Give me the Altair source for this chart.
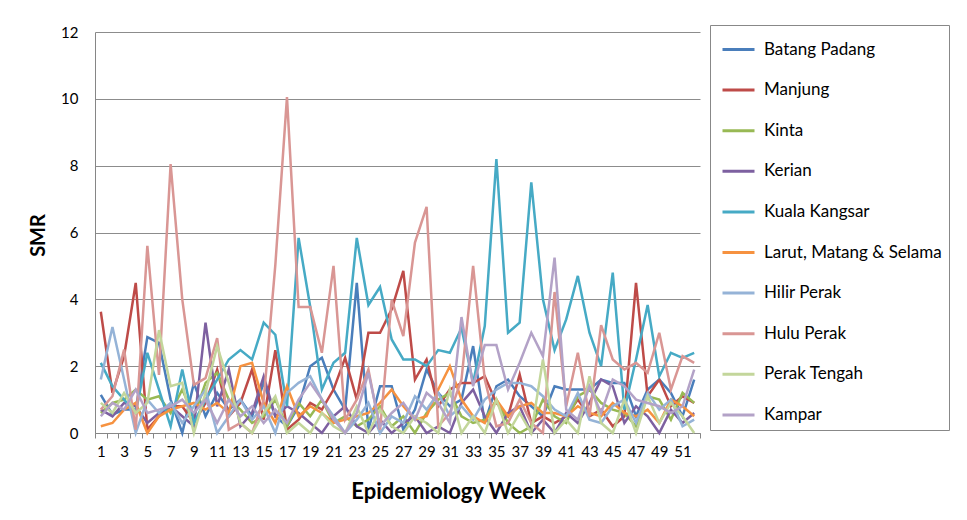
import altair as alt
import pandas as pd

weeks = list(range(1, 53))

districts = ["Batang Padang", "Manjung", "Kinta", "Kerian", "Kuala Kangsar",
             "Larut, Matang & Selama", "Hilir Perak", "Hulu Perak", "Perak Tengah", "Kampar"]

colors = ["#4A7EBB", "#BE4B48", "#98B954", "#7D60A0", "#46AAC5",
          "#F69240", "#95B3D7", "#D99694", "#C3D69B", "#B3A2C7"]

batang_padang = [1.14, 0.55, 0.7, 0.7, 2.87, 2.7, 1.0, 0.0, 1.5, 0.5, 1.2, 0.7, 1.0, 0.5, 1.5, 0.5, 0.2, 0.8, 2.0, 2.25,
                 1.3, 0.7, 4.49, 0.1, 1.4, 1.4, 0.1, 0.7, 1.9, 1.2, 0.8, 1.0, 2.6, 0.3, 1.4, 1.6, 1.1, 0.8, 0.5, 1.4,
                 1.3, 1.3, 1.3, 1.6, 1.5, 1.5, 0.5, 1.3, 1.6, 1.2, 0.5, 1.6]
manjung = [3.63, 1.2, 2.3, 4.49, 0.1, 0.5, 0.8, 0.8, 0.3, 0.9, 1.9, 0.5, 0.9, 1.9, 0.4, 2.48, 0.1, 0.4, 0.9, 0.7,
           1.3, 2.25, 1.0, 3.0, 3.0, 3.7, 4.85, 1.6, 2.2, 0.8, 1.3, 1.5, 1.5, 1.7, 0.9, 0.5, 1.75, 0.3, 0.5, 0.3,
           0.5, 1.0, 0.5, 0.7, 0.2, 0.5, 4.49, 1.1, 1.6, 0.8, 1.1, 0.9]
kinta = [0.6, 0.9, 1.0, 1.3, 1.0, 1.1, 0.6, 1.3, 0.5, 1.5, 1.8, 1.0, 0.7, 0.3, 0.5, 1.0, 0.2, 0.9, 0.5, 1.0,
         0.3, 0.5, 0.2, 0.4, 0.8, 0.2, 0.5, 0.0, 0.6, 1.0, 1.2, 0.5, 0.3, 0.4, 1.0, 0.3, 0.0, 0.2, 1.0, 0.5,
         0.3, 1.1, 1.3, 0.9, 0.7, 0.6, 0.2, 1.1, 1.0, 0.4, 1.2, 0.9]
kerian = [0.7, 0.5, 0.9, 0.8, 0.3, 0.6, 0.8, 0.5, 0.2, 3.3, 0.8, 1.9, 0.2, 0.6, 1.7, 0.5, 0.8, 0.6, 0.3, 0.0,
          0.5, 0.8, 0.2, 0.0, 0.4, 0.0, 0.3, 0.5, 0.0, 0.2, 0.0, 0.9, 1.3, 0.5, 0.0, 0.6, 0.8, 0.0, 0.4, 0.0,
          0.6, 0.3, 0.9, 1.6, 1.4, 0.3, 0.8, 0.5, 0.0, 0.7, 0.3, 0.6]
kuala_kangsar = [2.1, 1.4, 1.0, 0.6, 2.4, 1.3, 0.2, 1.9, 0.3, 1.0, 1.6, 2.2, 2.48, 2.2, 3.3, 2.94, 0.8, 5.84, 3.78, 1.3,
                 2.1, 2.4, 5.84, 3.83, 4.37, 2.8, 2.2, 2.2, 2.0, 2.48, 2.4, 3.14, 1.5, 3.2, 8.2, 3.0, 3.3, 7.5, 4.0, 2.48,
                 3.4, 4.7, 3.0, 2.0, 4.8, 0.7, 2.2, 3.83, 1.7, 2.4, 2.25, 2.4]
larut = [0.2, 0.3, 0.7, 0.9, 0.0, 0.5, 0.7, 0.8, 0.9, 0.7, 0.9, 0.6, 2.0, 2.1, 0.9, 0.3, 1.4, 0.5, 0.8, 0.6,
         0.3, 0.4, 0.5, 0.6, 0.9, 1.3, 0.8, 0.4, 0.5, 1.3, 2.0, 1.0, 0.5, 0.3, 1.0, 0.5, 0.8, 0.9, 0.6, 0.6,
         0.5, 0.8, 0.6, 0.5, 0.9, 0.6, 0.5, 0.7, 0.3, 1.0, 0.8, 0.5]
hilir_perak = [1.6, 3.17, 1.6, 0.0, 1.0, 0.6, 0.9, 0.3, 0.8, 1.3, 0.0, 0.5, 1.0, 0.4, 0.8, 0.0, 1.2, 1.5, 1.7, 1.0,
               0.5, 0.0, 0.4, 0.9, 0.0, 0.5, 0.3, 1.1, 0.7, 1.2, 0.5, 0.8, 0.4, 1.0, 1.3, 1.5, 1.5, 1.4, 1.1, 0.7,
               0.5, 1.2, 0.4, 0.3, 0.8, 1.0, 0.3, 1.2, 0.7, 1.0, 0.2, 0.4]
hulu_perak = [0.7, 1.1, 2.5, 0.1, 5.6, 1.74, 8.05, 4.0, 1.44, 1.64, 2.84, 0.1, 0.3, 0.0, 1.0, 5.03, 10.05, 3.77, 3.77, 2.4,
              5.0, 0.4, 1.0, 1.9, 0.1, 3.98, 2.9, 5.7, 6.77, 0.2, 0.6, 1.6, 5.0, 1.6, 0.2, 0.3, 1.0, 0.3, 0.0, 4.22,
              0.8, 2.4, 0.5, 3.23, 2.2, 1.9, 2.1, 1.8, 3.0, 1.3, 2.3, 2.1]
perak_tengah = [0.9, 0.6, 1.2, 0.6, 0.9, 3.08, 1.4, 1.5, 0.0, 1.2, 2.6, 1.5, 0.3, 0.0, 0.6, 1.1, 0.0, 0.3, 0.0, 0.6,
                0.2, 0.0, 0.8, 0.0, 0.7, 0.2, 0.0, 0.5, 0.3, 0.0, 1.3, 0.0, 0.5, 0.0, 1.0, 0.0, 0.6, 0.0, 2.2, 0.0,
                0.4, 0.0, 1.7, 0.3, 0.0, 1.0, 0.0, 1.1, 0.3, 0.9, 0.5, 0.0]
kampar = [0.5, 0.9, 0.7, 1.3, 0.6, 0.7, 0.8, 1.0, 0.6, 1.0, 0.3, 1.0, 0.5, 0.8, 0.3, 0.7, 0.3, 1.0, 1.5, 1.0,
          0.4, 0.0, 0.6, 1.8, 0.2, 0.6, 0.9, 0.4, 1.2, 0.9, 0.3, 3.47, 1.4, 2.63, 2.63, 1.3, 2.1, 3.0, 2.3, 5.25,
          0.7, 0.4, 1.4, 0.6, 1.6, 1.4, 1.0, 0.9, 0.8, 0.6, 0.8, 1.9]

series = [batang_padang, manjung, kinta, kerian, kuala_kangsar,
          larut, hilir_perak, hulu_perak, perak_tengah, kampar]

rows = []
for i, (name, vals) in enumerate(zip(districts, series)):
    for w, v in zip(weeks, vals):
        rows.append({"District": name, "Week": w, "SMR": v, "idx": i})
df = pd.DataFrame(rows)

FONT = "Lato"
tick_vals = [w - 0.5 for w in weeks] + [52.5]

chart = alt.Chart(df).mark_line(strokeWidth=2.5).encode(
    x=alt.X("Week:Q",
            scale=alt.Scale(domain=[0.5, 52.5], nice=False, zero=False),
            axis=alt.Axis(values=tick_vals,
                          labelExpr="(datum.value + 0.5) % 2 == 1 && datum.value < 52 ? '' + (datum.value + 0.5) : ''",
                          labelOffset=5.8, labelOverlap=False, labelFlush=False,
                          grid=False, tickSize=5, tickColor="#868686", domainColor="#868686",
                          labelFontSize=15, labelFont=FONT, labelColor="#000", labelPadding=6,
                          title="Epidemiology Week", titleFont=FONT, titleFontSize=22,
                          titleFontWeight="bold", titleColor="#000",
                          titleX=353, titleY=65, titleBaseline="alphabetic")),
    y=alt.Y("SMR:Q",
            scale=alt.Scale(domain=[0, 12], nice=False),
            axis=alt.Axis(values=[0, 2, 4, 6, 8, 10, 12], grid=True, gridColor="#8C8C8C",
                          ticks=False, domainColor="#868686", labelPadding=17,
                          labelFontSize=15, labelFont=FONT, labelColor="#000",
                          title="SMR", titleFont=FONT, titleFontSize=20, titleFontWeight="bold",
                          titleColor="#000", titleX=-57, titleY=203, titleAngle=270,
                          titleBaseline="middle", titleAlign="center")),
    color=alt.Color("District:N",
                    scale=alt.Scale(domain=districts, range=colors),
                    sort=districts,
                    legend=alt.Legend(orient="none", legendX=615, legendY=-7, title=None,
                                      symbolType="stroke", symbolSize=1024, symbolStrokeWidth=3,
                                      symbolOffset=4,
                                      labelFont=FONT, labelFontSize=17, labelColor="#000",
                                      labelLimit=400, labelOffset=8, rowPadding=14.6, padding=7,
                                      strokeColor="#888888", fillColor="white")),
    order=alt.Order("idx:Q"),
).properties(
    width=605, height=401,
    autosize=alt.AutoSizeParams(type="none"),
    padding={"left": 87, "top": 24, "right": 259, "bottom": 79},
).configure_view(stroke=None)

chart.save("out.html", embed_options={"renderer": "svg", "actions": False})
